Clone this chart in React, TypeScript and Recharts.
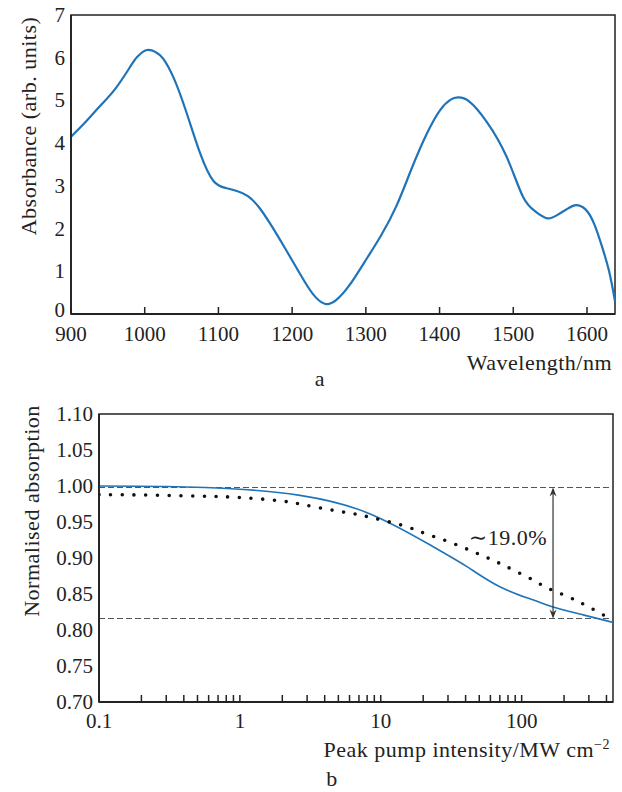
import React from 'react';
import { LineChart, Line, XAxis, YAxis, ReferenceArea, ReferenceLine } from 'recharts';

// ---------- Panel a: absorbance spectrum ----------
const wavelengthNm = [900, 920, 940, 960, 980, 990, 1003, 1015, 1025, 1040, 1057, 1075, 1093, 1110, 1125, 1140, 1155, 1170, 1190, 1212, 1228, 1244, 1260, 1278, 1298, 1320, 1342, 1362, 1383, 1401, 1415, 1425, 1440, 1464, 1491, 1513, 1530, 1546, 1560, 1575, 1585, 1598, 1610, 1620, 1630, 1638];
const absorbance = [4.15, 4.5, 4.88, 5.27, 5.78, 6.02, 6.18, 6.13, 5.98, 5.5, 4.7, 3.77, 3.12, 2.95, 2.88, 2.76, 2.5, 2.12, 1.55, 0.9, 0.47, 0.24, 0.33, 0.68, 1.21, 1.82, 2.55, 3.4, 4.23, 4.78, 5.02, 5.07, 4.98, 4.5, 3.68, 2.75, 2.4, 2.24, 2.32, 2.48, 2.55, 2.45, 2.1, 1.6, 1.0, 0.3];
const wavelengthTicks = [900, 1000, 1100, 1200, 1300, 1400, 1500, 1600];
const absorbanceTicks = [0, 1, 2, 3, 4, 5, 6, 7];

// ---------- Panel b: normalised absorption ----------
const modelIntensity = [0.1, 0.3, 1, 2.67, 8, 23.4, 40.9, 70, 120, 167, 273, 445];
const modelAbs = [1.0, 0.9993, 0.9955, 0.987, 0.963, 0.916, 0.888, 0.86, 0.842, 0.832, 0.821, 0.8105];
const measIntensity = [0.1, 0.2, 0.5, 1, 2, 3, 5, 7, 10, 15, 20, 30, 45, 64, 90, 127, 150, 214, 300, 420, 445];
const measuredAbs = [0.988, 0.9875, 0.986, 0.984, 0.979, 0.973, 0.965, 0.96, 0.953, 0.944, 0.935, 0.923, 0.909, 0.896, 0.882, 0.867, 0.859, 0.846, 0.832, 0.816, 0.813];
const intensityTicks = [0.1, 0.2, 0.3, 0.4, 0.5, 0.6, 0.7, 0.8, 0.9, 1, 2, 3, 4, 5, 6, 7, 8, 9, 10, 20, 30, 40, 50, 60, 70, 80, 90, 100, 200, 300, 400];
const intensityLabels = [0.1, 1, 10, 100];
const normTicks = [0.7, 0.75, 0.8, 0.85, 0.9, 0.95, 1.0, 1.05, 1.1];
const upperLevel = 0.998;
const lowerLevel = 0.816;
const arrowAt = 167;

const FONT = '"Liberation Serif", "DejaVu Serif", serif';
const INK = '#222';
const BLUE = '#1f74b9';

const spectrumData = wavelengthNm.map((w, i) => ({ w, a: absorbance[i] }));
const modelData = modelIntensity.map((x, i) => ({ x, model: modelAbs[i] }));
const measData = measIntensity.map((x, i) => ({ x, meas: measuredAbs[i] }));

const InTickA = (props: any) => {
  const { x, y, payload } = props;
  return (
    <g>
      <line x1={x} y1={y} x2={x} y2={y - 7} stroke={INK} strokeWidth={1.5} />
      <text x={x} y={y + 27} textAnchor="middle" fontSize={21} fontFamily={FONT} fill={INK}>
        {payload.value}
      </text>
    </g>
  );
};

const InTickB = (props: any) => {
  const { x, y, payload } = props;
  const v = payload.value;
  const show = intensityLabels.some((l) => Math.abs(l - v) < 1e-9);
  return (
    <g>
      <line x1={x} y1={y} x2={x} y2={y - 7} stroke={INK} strokeWidth={1.5} />
      {show ? (
        <text x={x} y={y + 26} textAnchor="middle" fontSize={21} fontFamily={FONT} fill={INK}>
          {String(v)}
        </text>
      ) : null}
    </g>
  );
};

const YTick = (props: any) => {
  const { x, y, payload, digits } = props;
  const v = payload.value;
  const lift = v === 0 ? 4 : 0;
  return (
    <text x={x} y={y + 7 - lift} textAnchor="end" fontSize={21} fontFamily={FONT} fill={INK}>
      {digits ? Number(v).toFixed(digits) : String(v)}
    </text>
  );
};

const ArrowShape = (p: any) => {
  const x = p.x1;
  const top = Math.min(p.y1, p.y2);
  const bot = Math.max(p.y1, p.y2);
  const c = '#333';
  return (
    <g>
      <line x1={x} y1={top + 2} x2={x} y2={bot - 2} stroke={c} strokeWidth={1.2} />
      <polygon points={`${x},${top} ${x - 3.5},${top + 9} ${x},${top + 6} ${x + 3.5},${top + 9}`} fill={c} />
      <polygon points={`${x},${bot} ${x - 3.5},${bot - 9} ${x},${bot - 6} ${x + 3.5},${bot - 9}`} fill={c} />
    </g>
  );
};

export default function App() {
  return (
    <div style={{ position: 'absolute', left: 0, top: 0, width: 622, height: 792, background: '#fff', overflow: 'hidden' }}>
      <div style={{ position: 'absolute', left: 0, top: 0 }}>
        <LineChart width={622} height={390} data={spectrumData} margin={{ top: 15, right: 7, bottom: 0, left: 0 }}>
          <ReferenceArea x1={900} x2={1638} y1={0} y2={7} fill="none" stroke={INK} strokeWidth={1.5} />
          <XAxis
            dataKey="w"
            type="number"
            domain={[900, 1638]}
            ticks={wavelengthTicks}
            height={76}
            tickSize={0}
            tickMargin={0}
            tick={<InTickA />}
            axisLine={{ stroke: INK, strokeWidth: 1.8 }}
            interval={0}
          />
          <YAxis
            type="number"
            domain={[0, 7]}
            ticks={absorbanceTicks}
            width={71}
            tickSize={0}
            tickMargin={6}
            tickLine={false}
            tick={<YTick />}
            axisLine={{ stroke: INK, strokeWidth: 1.8 }}
            interval={0}
          />
          <Line dataKey="a" type="natural" stroke={BLUE} strokeWidth={2.2} dot={false} isAnimationActive={false} />
        </LineChart>
      </div>
      <div style={{ position: 'absolute', left: 0, top: 390 }}>
        <LineChart width={622} height={402} margin={{ top: 24, right: 9, bottom: 0, left: 0 }}>
          <ReferenceArea x1={0.1} x2={445} y1={0.7} y2={1.1} fill="none" stroke={INK} strokeWidth={1.5} />
          <XAxis
            dataKey="x"
            type="number"
            scale="log"
            domain={[0.1, 445]}
            allowDataOverflow
            ticks={intensityTicks}
            height={90}
            tickSize={0}
            tickMargin={0}
            tick={<InTickB />}
            axisLine={{ stroke: INK, strokeWidth: 1.8 }}
            interval={0}
          />
          <YAxis
            type="number"
            domain={[0.7, 1.1]}
            ticks={normTicks}
            width={99}
            tickSize={0}
            tickMargin={6}
            tickLine={false}
            tick={<YTick digits={2} />}
            axisLine={{ stroke: INK, strokeWidth: 1.8 }}
            interval={0}
          />
          <ReferenceLine y={upperLevel} stroke="#555" strokeWidth={1.1} strokeDasharray="6 3" />
          <ReferenceLine y={lowerLevel} stroke="#555" strokeWidth={1.1} strokeDasharray="6 3" />
          <Line data={modelData} dataKey="model" type="natural" stroke={BLUE} strokeWidth={1.6} dot={false} isAnimationActive={false} />
          <Line
            data={measData}
            dataKey="meas"
            type="natural"
            stroke="#111"
            strokeWidth={3.6}
            strokeLinecap="round"
            strokeDasharray="0 11.7"
            dot={false}
            isAnimationActive={false}
          />
          <ReferenceLine
            segment={[{ x: arrowAt, y: upperLevel }, { x: arrowAt, y: lowerLevel }]}
            shape={<ArrowShape />}
          />
        </LineChart>
      </div>
      <svg width={622} height={792} style={{ position: 'absolute', left: 0, top: 0, pointerEvents: 'none' }}>
        <g fontFamily={FONT} fill={INK} fontSize={22} letterSpacing={0.5}>
          <text transform="translate(36,126) rotate(-90)" textAnchor="middle">Absorbance (arb. units)</text>
          <text x={612} y={370} textAnchor="end">Wavelength/nm</text>
          <text x={320} y={386} textAnchor="middle">a</text>
          <text transform="translate(39,511) rotate(-90)" textAnchor="middle">Normalised absorption</text>
          <text x={547} y={545} textAnchor="end">∼19.0%</text>
          <text x={610} y={757} textAnchor="end">
            Peak pump intensity/MW cm<tspan dy={-8} fontSize={14}>−2</tspan>
          </text>
          <text x={332} y={786} textAnchor="middle">b</text>
        </g>
      </svg>
    </div>
  );
}
